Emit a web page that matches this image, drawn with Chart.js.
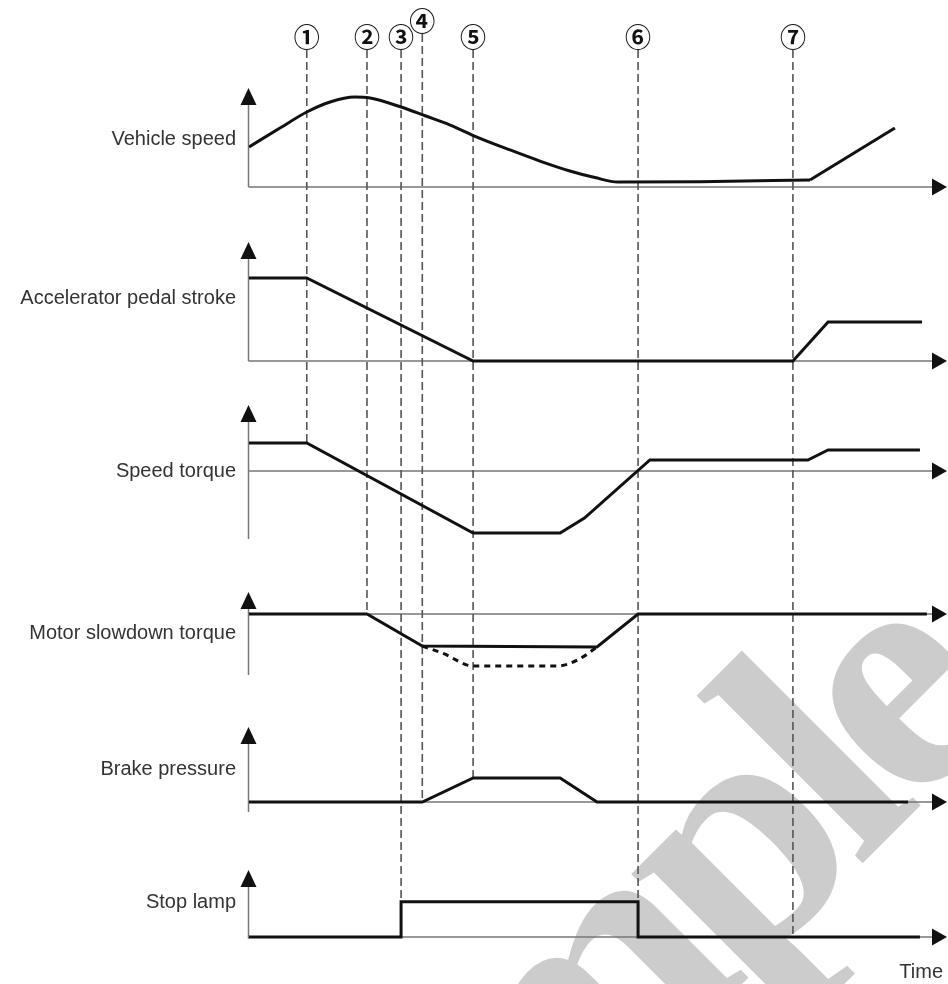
<!DOCTYPE html>
<html>
<head>
<meta charset="utf-8">
<title>Diagrama de tiempos</title>
<script src="https://cdn.jsdelivr.net/npm/chart.js@4.4.1/dist/chart.umd.min.js"></script>
<style>
  html, body { margin: 0; padding: 0; background: #fff; }
  #wrap { width: 948px; height: 984px; position: relative; }
</style>
</head>
<body>
<div id="wrap"><canvas id="diagrama"></canvas></div>
<script>
// Tiempo en unidades arbitrarias (0 - 100)
const eventTimes = [8.3, 16.95, 21.85, 24.9, 32.2, 55.9, 78.15];
const eventLabels = ['①', '②', '③', '④', '⑤', '⑥', '⑦'];

const rowLabels = ['Vehicle speed', 'Accelerator pedal stroke', 'Speed torque',
                   'Motor slowdown torque', 'Brake pressure', 'Stop lamp'];

// Series
const speedT = [0, 4.45, 8.3, 11.65, 15.2, 17.4, 21.85, 25.3, 28.9, 32.75, 37.5, 41.8, 46.1, 49.7, 53.0, 64.8, 80.6, 92.8];
const speedV = [26.7, 39.3, 50, 56.7, 60, 59.3, 53.3, 47.5, 41.3, 33.3, 24.7, 17.3, 10.7, 6.3, 3.3, 3.5, 4.7, 39.3];

const pedalT = [0, 8.3, 32.2, 78.15, 83.2, 96.7];
const pedalV = [41.5, 41.5, 0, 0, 19.5, 19.5];

const torqueT = [0, 8.3, 32.2, 44.7, 48.2, 57.6, 80.3, 83.2, 96.4];
const torqueV = [14, 14, -31, -31, -23.5, 5.5, 5.5, 10.5, 10.5];

const motorT = [0, 16.95, 24.9, 50.0, 55.9, 97.4];
const motorV = [0, 0, -16, -16.5, 0, 0];

const motorDashT = [24.9, 27.9, 32.2, 44.3, 47.2, 50.0];
const motorDashV = [-16, -19.7, -26, -26, -23, -16.5];

const brakeT = [0, 24.9, 32.2, 44.7, 50.0, 94.7];
const brakeV = [0, 0, 12, 12, 0, 0];

const lampT = [0, 21.85, 55.9, 96.4];
const lampV = [0, 1, 0, 0];

// Filas: ejes apilados (solo diseño)
const rows = [
  { id: 'ySpeed',  min: -12,   max: 78,   h: 135, axisFrom: 0,     axisTo: 66,   labelAt: 32 },
  { id: 'yPedal',  min: -9.5,  max: 78,   h: 175, axisFrom: 0,     axisTo: 59.5, labelAt: 31.5 },
  { id: 'yTorque', min: -44.5, max: 45.5, h: 180, axisFrom: -34,   axisTo: 33,   labelAt: 0 },
  { id: 'yMotor',  min: -38,   max: 27,   h: 130, axisFrom: -30.5, axisTo: 11,   labelAt: -9.5 },
  { id: 'yBrake',  min: -9,    max: 56,   h: 130, axisFrom: -5,    axisTo: 37.5, labelAt: 16.5 },
  { id: 'yLamp',   min: -0.37, max: 3.33, h: 130, axisFrom: -0.05, axisTo: 1.91, labelAt: 0.97 }
];

// Hasta dónde baja cada línea punteada
const eventEndRow = [2, 3, 5, 4, 4, 5, 5];
const eventEndValue = [14, 0, 1, 0, 12, 1, 0];
const eventLabelY = [37, 37, 37, 21, 37, 37, 37];

function puntos(ts, vs) {
  return ts.map((t, i) => ({ x: t, y: vs[i] }));
}

const linea = {
  borderColor: '#111',
  borderWidth: 3,
  pointRadius: 0,
  fill: false,
  tension: 0,
  borderJoinStyle: 'miter'
};

const scales = {
  x: { type: 'linear', min: 0, max: 100, display: false }
};
rows.forEach((r, i) => {
  scales[r.id] = {
    type: 'linear',
    position: 'left',
    stack: 'filas',
    stackWeight: r.h,
    weight: rows.length - i,
    min: r.min,
    max: r.max,
    display: false
  };
});

const diagramaPlugin = {
  id: 'diagrama',
  beforeDraw(chart) {
    // Marca de agua
    const ctx = chart.ctx;
    ctx.save();
    ctx.translate(665, 1061);
    ctx.rotate(-Math.PI / 4);
    ctx.font = 'bold 340px "Liberation Serif", "Times New Roman", serif';
    ctx.letterSpacing = '-20px';
    ctx.fillStyle = '#cccccc';
    ctx.textAlign = 'center';
    ctx.textBaseline = 'alphabetic';
    ctx.fillText('Sample', 0, 0);
    ctx.restore();
  },
  beforeDatasetsDraw(chart) {
    const ctx = chart.ctx;
    const x = chart.scales.x;
    const x0 = x.getPixelForValue(0) - 0.5;
    const xEnd = x.right + 2;
    ctx.save();
    rows.forEach(r => {
      const y = chart.scales[r.id];
      const yBase = y.getPixelForValue(0);
      const yTop = y.getPixelForValue(r.axisTo);
      const yBottom = y.getPixelForValue(r.axisFrom);
      ctx.strokeStyle = '#777';
      ctx.lineWidth = 1.5;
      ctx.beginPath();
      ctx.moveTo(x0, yBottom);
      ctx.lineTo(x0, yTop + 14);
      ctx.moveTo(x0, yBase);
      ctx.lineTo(xEnd - 12, yBase);
      ctx.stroke();
      ctx.fillStyle = '#111';
      ctx.beginPath();
      ctx.moveTo(x0, yTop);
      ctx.lineTo(x0 - 8, yTop + 17);
      ctx.lineTo(x0 + 8, yTop + 17);
      ctx.closePath();
      ctx.moveTo(xEnd, yBase);
      ctx.lineTo(xEnd - 15, yBase - 8.5);
      ctx.lineTo(xEnd - 15, yBase + 8.5);
      ctx.closePath();
      ctx.fill();
    });
    // Líneas punteadas de los eventos
    ctx.strokeStyle = '#555';
    ctx.lineWidth = 1.6;
    ctx.setLineDash([8, 4]);
    eventTimes.forEach((t, i) => {
      const px = x.getPixelForValue(t);
      const yEnd = chart.scales[rows[eventEndRow[i]].id].getPixelForValue(eventEndValue[i]);
      ctx.beginPath();
      ctx.moveTo(px, eventLabelY[i] + 13);
      ctx.lineTo(px, yEnd);
      ctx.stroke();
    });
    ctx.restore();
  },
  afterDraw(chart) {
    const ctx = chart.ctx;
    const x = chart.scales.x;
    ctx.save();
    ctx.fillStyle = '#333';
    ctx.font = '20px "Liberation Sans", Arial, sans-serif';
    ctx.textAlign = 'right';
    ctx.textBaseline = 'middle';
    rows.forEach((r, i) => {
      ctx.fillText(rowLabels[i], 236, chart.scales[r.id].getPixelForValue(r.labelAt));
    });
    ctx.fillText('Time', 943, 972);
    ctx.fillStyle = '#111';
    ctx.font = 'bold 26px "Noto Sans CJK JP", "DejaVu Sans", sans-serif';
    ctx.textAlign = 'center';
    eventLabels.forEach((lab, i) => {
      ctx.fillText(lab, x.getPixelForValue(eventTimes[i]), eventLabelY[i]);
    });
    ctx.restore();
  }
};

new Chart(document.getElementById('diagrama'), {
  type: 'line',
  data: {
    datasets: [
      { ...linea, label: 'Vehicle speed', data: puntos(speedT.slice(0, -1), speedV.slice(0, -1)), yAxisID: 'ySpeed', cubicInterpolationMode: 'monotone' },
      { ...linea, label: 'Vehicle speed (rise)', data: puntos(speedT.slice(-2), speedV.slice(-2)), yAxisID: 'ySpeed' },
      { ...linea, label: 'Accelerator pedal stroke', data: puntos(pedalT, pedalV), yAxisID: 'yPedal' },
      { ...linea, label: 'Speed torque', data: puntos(torqueT, torqueV), yAxisID: 'yTorque' },
      { ...linea, label: 'Motor slowdown torque', data: puntos(motorT, motorV), yAxisID: 'yMotor' },
      { ...linea, label: 'Motor slowdown torque (dashed)', data: puntos(motorDashT, motorDashV), yAxisID: 'yMotor', borderDash: [6, 5], cubicInterpolationMode: 'monotone' },
      { ...linea, label: 'Brake pressure', data: puntos(brakeT, brakeV), yAxisID: 'yBrake' },
      { ...linea, label: 'Stop lamp', data: puntos(lampT, lampV), yAxisID: 'yLamp', stepped: 'before' }
    ]
  },
  options: {
    responsive: true,
    maintainAspectRatio: false,
    animation: false,
    events: [],
    layout: { padding: { left: 249, right: 3, top: 70, bottom: 34 } },
    scales: scales,
    plugins: {
      legend: { display: false },
      tooltip: { enabled: false }
    }
  },
  plugins: [diagramaPlugin]
});
</script>
</body>
</html>
